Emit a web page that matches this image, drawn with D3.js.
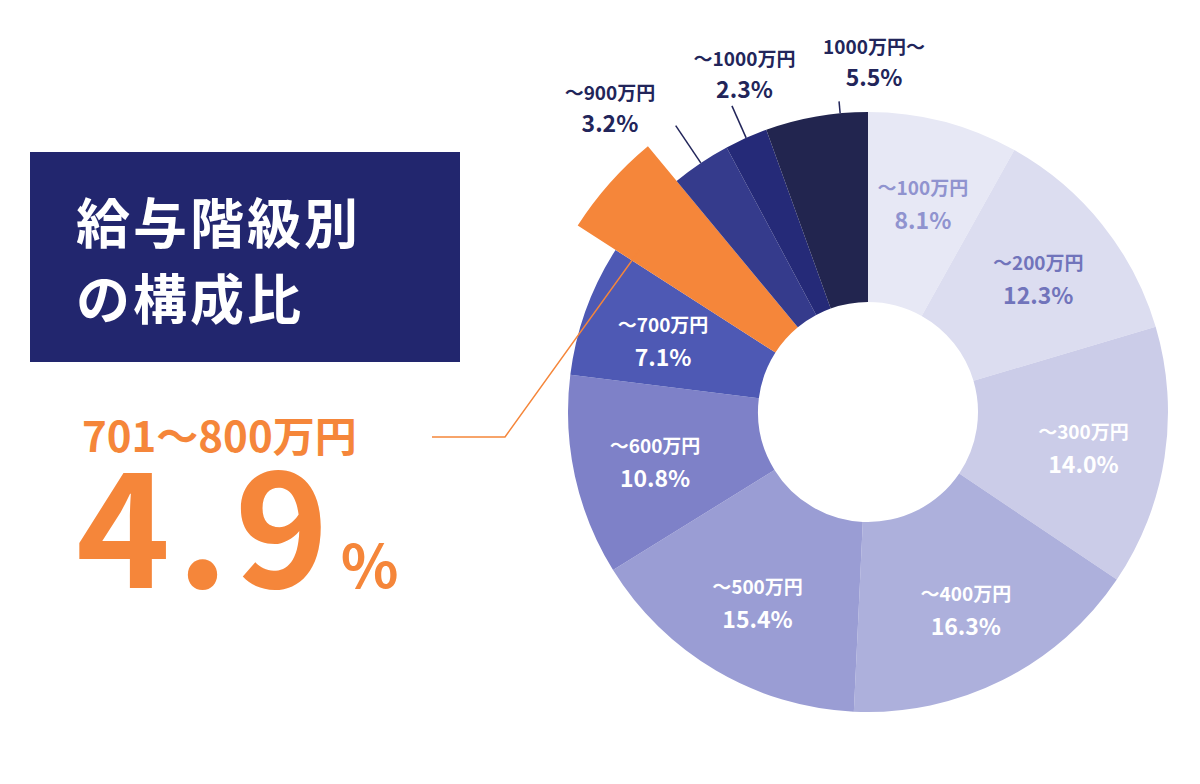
<!DOCTYPE html>
<html><head><meta charset="utf-8">
<script src="https://cdn.jsdelivr.net/npm/d3@7"></script>
<style>body{margin:0;background:#fff}text{font-family:"Noto Sans CJK JP",sans-serif;font-weight:700}</style>
</head><body><svg id="c" width="1200" height="784"></svg>
<script>
const labels = ["～100万円","～200万円","～300万円","～400万円","～500万円","～600万円","～700万円","701～800万円","～900万円","～1000万円","1000万円～"];
const values = [8.1, 12.3, 14.0, 16.3, 15.4, 10.8, 7.1, 4.9, 3.2, 2.3, 5.5];
const colors = ["#e7e8f5","#dcddf0","#cbcce8","#adb0dc","#9a9dd4","#7e81c8","#4e59b4","#f5863a","#353b8c","#252a78","#22254f"];
const textColors = ["#9093cf","#7174bb","#fff","#fff","#fff","#fff","#fff",null,null,null,null];

const svg = d3.select("#c");
const cx = 868, cy = 412, rOut = 300, rIn = 110, rHi = 345;
const hi = 7;
const g = svg.append("g").attr("transform", `translate(${cx},${cy})`);
const pie = d3.pie().sort(null).value(d => d)(values);
const arc = d3.arc().innerRadius(rIn).outerRadius((d, i) => i === hi ? rHi : rOut);
const mid = d => (d.startAngle + d.endAngle) / 2;

g.selectAll("path").data(pie).enter().append("path")
  .attr("d", (d, i) => d3.arc().innerRadius(rIn).outerRadius(i === hi ? rHi : rOut)(d))
  .attr("fill", (d, i) => colors[i]);

// inner labels
pie.forEach((d, i) => {
  if (!textColors[i]) return;
  const a = mid(d), r = 218;
  const x = Math.sin(a) * r, y = -Math.cos(a) * r;
  const t = g.append("text").attr("text-anchor", "middle").attr("fill", textColors[i]);
  t.append("tspan").attr("x", x).attr("y", y - 6).attr("font-size", 19).text(labels[i]);
  t.append("tspan").attr("x", x).attr("y", y + 28).attr("font-size", 23).text(values[i].toFixed(1) + "%");
});

// outside labels
const outer = [{i: 8, r1: 300, r2: 345, lr: 400, da: -0.11}, {i: 9, r1: 300, r2: 335, lr: 362, da: 0.07}, {i: 10, r1: 300, r2: 312, lr: 352, da: 0.19}];
outer.forEach(o => {
  const a = o.i === 10 ? mid(pie[o.i]) + 0.08 : mid(pie[o.i]);
  g.append("line")
    .attr("x1", Math.sin(a) * o.r1).attr("y1", -Math.cos(a) * o.r1)
    .attr("x2", Math.sin(a) * o.r2).attr("y2", -Math.cos(a) * o.r2)
    .attr("stroke", "#22255a").attr("stroke-width", 1.5);
  const b = mid(pie[o.i]) + o.da;
  const x = Math.sin(b) * o.lr, y = -Math.cos(b) * o.lr;
  const t = g.append("text").attr("text-anchor", "middle").attr("fill", "#22255a");
  t.append("tspan").attr("x", x).attr("y", y - 6).attr("font-size", 19).text(labels[o.i]);
  t.append("tspan").attr("x", x).attr("y", y + 26).attr("font-size", 23).text(values[o.i].toFixed(1) + "%");
});

// title box
svg.append("rect").attr("x", 30).attr("y", 152).attr("width", 430).attr("height", 210).attr("fill", "#22266e");
svg.append("text").attr("x", 76).attr("y", 244).attr("fill", "#fff").attr("font-size", 54).attr("letter-spacing", 3).text("給与階級別");
svg.append("text").attr("x", 76).attr("y", 320).attr("fill", "#fff").attr("font-size", 54).attr("letter-spacing", 3).text("の構成比");

// highlight
svg.append("text").attr("x", 82).attr("y", 452).attr("fill", "#f5863a").attr("font-size", 42).text(labels[hi]);
const big = svg.append("text").attr("x", 76).attr("y", 588).attr("fill", "#f5863a");
big.append("tspan").attr("font-size", 160).attr("letter-spacing", 6).text(values[hi].toFixed(1));
big.append("tspan").attr("font-size", 60).attr("dx", 6).text("%");

const ha = mid(pie[hi]), hr = 305;
svg.append("polyline")
  .attr("points", `432,437 505,437 ${cx + Math.sin(ha) * hr},${cy - Math.cos(ha) * hr + 40}`)
  .attr("fill", "none").attr("stroke", "#f5863a").attr("stroke-width", 1.5);
</script></body></html>
